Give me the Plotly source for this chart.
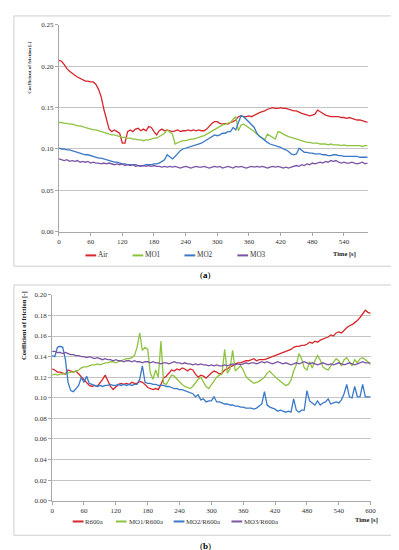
import plotly.graph_objects as go

# ---------------- data ----------------
time_a = list(range(0, 590, 5))  # 0 .. 585 s
air = [0.207, 0.206, 0.202, 0.197, 0.194, 0.191, 0.189, 0.187, 0.185, 0.183,
       0.182, 0.182, 0.181, 0.181, 0.178, 0.172, 0.163, 0.148, 0.136, 0.124,
       0.121, 0.123, 0.121, 0.119, 0.107, 0.107, 0.121, 0.123, 0.121, 0.124,
       0.125, 0.122, 0.124, 0.122, 0.127, 0.126, 0.121, 0.117, 0.122, 0.124,
       0.122, 0.123, 0.122, 0.121, 0.122, 0.123, 0.121, 0.122, 0.122, 0.123,
       0.122, 0.123, 0.122, 0.123, 0.122, 0.122, 0.124, 0.128, 0.131, 0.133,
       0.133, 0.131, 0.130, 0.131, 0.130, 0.132, 0.133, 0.135, 0.139, 0.140,
       0.139, 0.139, 0.140, 0.139, 0.141, 0.143, 0.144, 0.145, 0.146, 0.148,
       0.149, 0.150, 0.149, 0.149, 0.150, 0.149, 0.149, 0.148, 0.147, 0.146,
       0.146, 0.144, 0.143, 0.142, 0.141, 0.140, 0.141, 0.142, 0.147, 0.145,
       0.142, 0.141, 0.140, 0.139, 0.139, 0.139, 0.139, 0.138, 0.138, 0.137,
       0.138, 0.137, 0.136, 0.135, 0.135, 0.134, 0.133, 0.132]
mo1 = [0.132, 0.132, 0.131, 0.131, 0.130, 0.130, 0.129, 0.128, 0.128, 0.127,
       0.126, 0.125, 0.124, 0.123, 0.123, 0.122, 0.121, 0.120, 0.119, 0.118,
       0.117, 0.117, 0.116, 0.115, 0.114, 0.114, 0.113, 0.113, 0.112, 0.112,
       0.111, 0.111, 0.110, 0.111, 0.111, 0.112, 0.113, 0.113, 0.115, 0.116,
       0.119, 0.123, 0.121, 0.118, 0.106, 0.108, 0.109, 0.110, 0.110, 0.111,
       0.112, 0.112, 0.113, 0.114, 0.115, 0.116, 0.118, 0.120, 0.122, 0.124,
       0.126, 0.128, 0.129, 0.130, 0.131, 0.132, 0.136, 0.139, 0.122, 0.129,
       0.130, 0.128, 0.126, 0.123, 0.121, 0.118, 0.116, 0.113, 0.111, 0.118,
       0.116, 0.114, 0.112, 0.121, 0.120, 0.118, 0.116, 0.115, 0.114, 0.113,
       0.112, 0.111, 0.110, 0.109, 0.108, 0.108, 0.107, 0.107, 0.107, 0.106,
       0.106, 0.106, 0.105, 0.106, 0.105, 0.105, 0.105, 0.104, 0.105, 0.104,
       0.104, 0.104, 0.104, 0.104, 0.104, 0.103, 0.104, 0.104]
mo2 = [0.101, 0.100, 0.100, 0.099, 0.099, 0.098, 0.097, 0.096, 0.095, 0.094,
       0.093, 0.093, 0.092, 0.091, 0.090, 0.089, 0.089, 0.088, 0.087, 0.086,
       0.085, 0.084, 0.084, 0.083, 0.082, 0.082, 0.081, 0.081, 0.081, 0.081,
       0.080, 0.080, 0.080, 0.081, 0.081, 0.081, 0.082, 0.082, 0.083, 0.085,
       0.087, 0.093, 0.091, 0.088, 0.091, 0.095, 0.098, 0.100, 0.101, 0.102,
       0.103, 0.104, 0.105, 0.106, 0.107, 0.109, 0.111, 0.114, 0.116, 0.117,
       0.116, 0.117, 0.119, 0.119, 0.121, 0.121, 0.126, 0.123, 0.132, 0.140,
       0.139, 0.136, 0.133, 0.130, 0.126, 0.119, 0.115, 0.113, 0.110, 0.108,
       0.106, 0.105, 0.104, 0.103, 0.102, 0.100, 0.099, 0.097, 0.094, 0.093,
       0.094, 0.101, 0.098, 0.096, 0.096, 0.095, 0.095, 0.094, 0.094, 0.094,
       0.093, 0.093, 0.092, 0.092, 0.093, 0.093, 0.092, 0.092, 0.091, 0.091,
       0.091, 0.091, 0.091, 0.091, 0.090, 0.090, 0.090, 0.090]
mo3 = [0.088, 0.087, 0.086, 0.087, 0.085, 0.086, 0.085, 0.086, 0.084, 0.085,
       0.084, 0.085, 0.083, 0.084, 0.083, 0.083, 0.082, 0.083, 0.082, 0.083,
       0.082, 0.081, 0.082, 0.081, 0.082, 0.080, 0.081, 0.080, 0.081, 0.079,
       0.080, 0.079, 0.080, 0.079, 0.080, 0.079, 0.080, 0.079, 0.079, 0.078,
       0.079, 0.078, 0.079, 0.078, 0.079, 0.078, 0.077, 0.078, 0.079, 0.078,
       0.077, 0.078, 0.079, 0.078, 0.078, 0.079, 0.078, 0.077, 0.078, 0.079,
       0.078, 0.079, 0.077, 0.078, 0.079, 0.078, 0.077, 0.079, 0.078, 0.079,
       0.078, 0.077, 0.078, 0.079, 0.078, 0.079, 0.078, 0.079, 0.078, 0.077,
       0.078, 0.079, 0.078, 0.079, 0.078, 0.077, 0.078, 0.077, 0.078, 0.079,
       0.080, 0.079, 0.081, 0.080, 0.082, 0.081, 0.083, 0.082, 0.083, 0.084,
       0.083, 0.085, 0.084, 0.086, 0.085, 0.086, 0.084, 0.083, 0.084, 0.083,
       0.083, 0.084, 0.083, 0.082, 0.083, 0.084, 0.082, 0.083]

time_b = list(range(0, 605, 5))  # 0 .. 600 s
r600a = [0.128, 0.127, 0.125, 0.125, 0.124, 0.123, 0.127, 0.126, 0.125, 0.126,
         0.123, 0.120, 0.118, 0.114, 0.112, 0.111, 0.112, 0.111, 0.114, 0.118,
         0.122, 0.117, 0.111, 0.108, 0.111, 0.113, 0.114, 0.113, 0.114, 0.113,
         0.115, 0.114, 0.114, 0.116, 0.115, 0.113, 0.110, 0.109, 0.108, 0.109,
         0.108, 0.113, 0.119, 0.121, 0.124, 0.127, 0.126, 0.128, 0.127, 0.129,
         0.128, 0.126, 0.128, 0.127, 0.123, 0.120, 0.122, 0.121, 0.119, 0.122,
         0.124, 0.126, 0.125, 0.123, 0.124, 0.127, 0.128, 0.130, 0.131, 0.133,
         0.134, 0.134, 0.135, 0.136, 0.136, 0.137, 0.138, 0.136, 0.137, 0.137,
         0.137, 0.138, 0.139, 0.140, 0.141, 0.142, 0.143, 0.144, 0.145, 0.146,
         0.147, 0.149, 0.150, 0.150, 0.151, 0.151, 0.152, 0.154, 0.153, 0.155,
         0.154, 0.156, 0.157, 0.158, 0.159, 0.161, 0.160, 0.163, 0.164, 0.163,
         0.166, 0.168, 0.170, 0.171, 0.173, 0.175, 0.178, 0.181, 0.185, 0.183,
         0.182]
mo1_r = [0.122, 0.123, 0.122, 0.123, 0.123, 0.124, 0.124, 0.125, 0.125, 0.126,
         0.127, 0.129, 0.130, 0.130, 0.131, 0.132, 0.132, 0.133, 0.132, 0.133,
         0.134, 0.134, 0.135, 0.135, 0.134, 0.135, 0.136, 0.137, 0.138, 0.138,
         0.139, 0.141, 0.149, 0.163, 0.146, 0.149, 0.147, 0.124, 0.118, 0.127,
         0.120, 0.155, 0.114, 0.113, 0.118, 0.122, 0.121, 0.118, 0.116, 0.113,
         0.111, 0.110, 0.109, 0.111, 0.115, 0.118, 0.120, 0.116, 0.111, 0.109,
         0.113, 0.117, 0.120, 0.122, 0.123, 0.147, 0.124, 0.128, 0.146, 0.126,
         0.129, 0.131, 0.127, 0.121, 0.118, 0.116, 0.114, 0.115, 0.116, 0.118,
         0.120, 0.124, 0.126, 0.123, 0.120, 0.118, 0.116, 0.114, 0.112, 0.113,
         0.117, 0.126, 0.132, 0.143, 0.138, 0.129, 0.127, 0.135, 0.129, 0.136,
         0.141, 0.137, 0.130, 0.128, 0.127, 0.131, 0.135, 0.138, 0.136, 0.131,
         0.137, 0.139, 0.135, 0.131, 0.137, 0.134, 0.138, 0.139, 0.137, 0.135,
         0.132]
mo2_r = [0.141, 0.140, 0.149, 0.150, 0.149, 0.137, 0.115, 0.107, 0.106, 0.109,
         0.112, 0.120, 0.115, 0.121, 0.114, 0.113, 0.112, 0.111, 0.112, 0.111,
         0.112, 0.112, 0.113, 0.112, 0.112, 0.113, 0.112, 0.113, 0.112, 0.113,
         0.112, 0.113, 0.113, 0.118, 0.131, 0.115, 0.114, 0.114, 0.113, 0.113,
         0.112, 0.112, 0.112, 0.111, 0.111, 0.110, 0.109, 0.109, 0.108, 0.108,
         0.107, 0.106, 0.105, 0.104, 0.101, 0.103, 0.098, 0.099, 0.096, 0.097,
         0.097, 0.101, 0.096, 0.096, 0.095, 0.094, 0.094, 0.093, 0.093, 0.092,
         0.092, 0.091, 0.091, 0.090, 0.090, 0.090, 0.089, 0.090, 0.092, 0.094,
         0.106, 0.093, 0.091, 0.090, 0.089, 0.087, 0.088, 0.087, 0.086, 0.087,
         0.086, 0.099, 0.088, 0.086, 0.088, 0.088, 0.107, 0.097, 0.095, 0.093,
         0.097, 0.093, 0.095, 0.096, 0.099, 0.094, 0.095, 0.096, 0.095, 0.098,
         0.104, 0.113, 0.101, 0.100, 0.111, 0.101, 0.101, 0.113, 0.101, 0.101,
         0.101]
mo3_r = [0.145, 0.145, 0.144, 0.144, 0.143, 0.144, 0.143, 0.142, 0.142, 0.141,
         0.141, 0.140, 0.140, 0.139, 0.140, 0.139, 0.138, 0.139, 0.138, 0.137,
         0.138, 0.137, 0.137, 0.136, 0.137, 0.136, 0.136, 0.135, 0.136, 0.136,
         0.135, 0.136, 0.135, 0.135, 0.134, 0.135, 0.135, 0.134, 0.135, 0.134,
         0.134, 0.133, 0.134, 0.134, 0.133, 0.134, 0.135, 0.134, 0.134, 0.133,
         0.134, 0.133, 0.133, 0.132, 0.133, 0.132, 0.133, 0.132, 0.132, 0.131,
         0.132, 0.131, 0.132, 0.131, 0.131, 0.132, 0.131, 0.132, 0.133, 0.132,
         0.133, 0.132, 0.133, 0.134, 0.133, 0.134, 0.134, 0.133, 0.134, 0.135,
         0.134, 0.135, 0.134, 0.133, 0.134, 0.135, 0.134, 0.133, 0.134, 0.133,
         0.132, 0.133, 0.134, 0.133, 0.134, 0.135, 0.134, 0.133, 0.134, 0.133,
         0.132, 0.133, 0.134, 0.133, 0.132, 0.133, 0.132, 0.133, 0.134, 0.133,
         0.132, 0.133, 0.134, 0.133, 0.132, 0.133, 0.134, 0.135, 0.134, 0.134,
         0.134]

names_a = ["Air", "MO1", "MO2", "MO3"]
names_b = ["R600a", "MO1/R600a", "MO2/R600a", "MO3/R600a"]
ticks_a = [0, 60, 120, 180, 240, 300, 360, 420, 480, 540]
ticks_b = [0, 60, 120, 180, 240, 300, 360, 420, 480, 540, 600]
y_title = "Coefficient of friction [-]"
x_title = "Time [s]"

# ---------------- style ----------------
colors = ["#d8262c", "#8ec33f", "#3a79c7", "#7c54a4"]
W, H = 399, 550
FONT = "Liberation Serif"
GRID = "#c4c4c4"
AXIS = "#a8a8a8"


def px(x):
    return x / W


def py(y):
    return 1 - y / H


fig = go.Figure()
for name, ys, c in zip(names_a, [air, mo1, mo2, mo3], colors):
    fig.add_trace(go.Scatter(x=time_a, y=ys, mode="lines", name=name,
                             line=dict(color=c, width=1.3),
                             xaxis="x", yaxis="y", showlegend=False))
for name, ys, c in zip(names_b, [r600a, mo1_r, mo2_r, mo3_r], colors):
    fig.add_trace(go.Scatter(x=time_b, y=ys, mode="lines", name=name,
                             line=dict(color=c, width=1.3),
                             xaxis="x2", yaxis="y2", showlegend=False))

tickfont = dict(family=FONT, size=7, color="#333333")
common_x = dict(showgrid=False, showline=True, linecolor=AXIS, linewidth=1,
                ticks="outside", ticklen=3, tickcolor=AXIS, tickfont=tickfont,
                zeroline=False, fixedrange=True)
common_y = dict(showgrid=True, gridcolor=GRID, gridwidth=1, showline=True,
                linecolor=AXIS, linewidth=1, ticks="outside", ticklen=3,
                tickcolor=AXIS, tickfont=tickfont, zeroline=False,
                tickformat=".2f", fixedrange=True)

fig.update_layout(
    width=W, height=H,
    margin=dict(l=0, r=0, t=0, b=0),
    paper_bgcolor="white", plot_bgcolor="white",
    showlegend=False,
    xaxis=dict(domain=[px(50), px(365)], anchor="y", range=[0, 585],
               tickvals=ticks_a, **common_x),
    yaxis=dict(domain=[py(223), py(13)], anchor="x", range=[0, 0.25],
               dtick=0.05, **common_y),
    xaxis2=dict(domain=[px(43), px(368)], anchor="y2", range=[0, 600],
                tickvals=ticks_b, **common_x),
    yaxis2=dict(domain=[py(496), py(287)], anchor="x2", range=[0, 0.2],
                dtick=0.02, **common_y),
)

shapes = []
annotations = []
# panel frames
for (x0, y0, x1, y1) in [(4, 4, 395, 258), (4, 277, 393, 531)]:
    shapes.append(dict(type="rect", xref="paper", yref="paper",
                       x0=px(x0), x1=px(x1), y0=py(y1), y1=py(y0),
                       line=dict(color="#cfcfcf", width=1)))

# custom legends (short line samples)
leg_a_x = [77, 125, 178, 232]
leg_b_x = [64, 108, 167, 226]
for names, xs, ly, fs in [(names_a, leg_a_x, 247, 7.2), (names_b, leg_b_x, 517, 6.8)]:
    for name, x0, c in zip(names, xs, colors):
        shapes.append(dict(type="line", xref="paper", yref="paper",
                           x0=px(x0), x1=px(x0 + 11), y0=py(ly), y1=py(ly),
                           line=dict(color=c, width=2)))
        annotations.append(dict(text=name, xref="paper", yref="paper",
                                x=px(x0 + 11), y=py(ly), xanchor="left",
                                yanchor="middle", showarrow=False,
                                font=dict(family=FONT, size=fs, color="#333333")))

# axis titles
for (cx, cy, fs) in [(20, 57, 5), (15, 318, 6.6)]:
    annotations.append(dict(text="<b>" + y_title + "</b>", xref="paper",
                            yref="paper", x=px(cx), y=py(cy), textangle=-90,
                            xanchor="center", yanchor="middle", showarrow=False,
                            font=dict(family=FONT, size=fs, color="#222222")))
for (cx, cy) in [(341, 246), (364, 516)]:
    annotations.append(dict(text="<b>" + x_title + "</b>", xref="paper",
                            yref="paper", x=px(cx), y=py(cy), xanchor="center",
                            yanchor="middle", showarrow=False,
                            font=dict(family=FONT, size=6.5, color="#222222")))

# panel labels
for (lab, cy) in [("a", 267), ("b", 542)]:
    annotations.append(dict(text="(<b>" + lab + "</b>)", xref="paper",
                            yref="paper", x=px(199), y=py(cy), xanchor="center",
                            yanchor="middle", showarrow=False,
                            font=dict(family=FONT, size=9, color="#000000")))

fig.update_layout(shapes=shapes, annotations=annotations)
fig.write_html("out.html")
